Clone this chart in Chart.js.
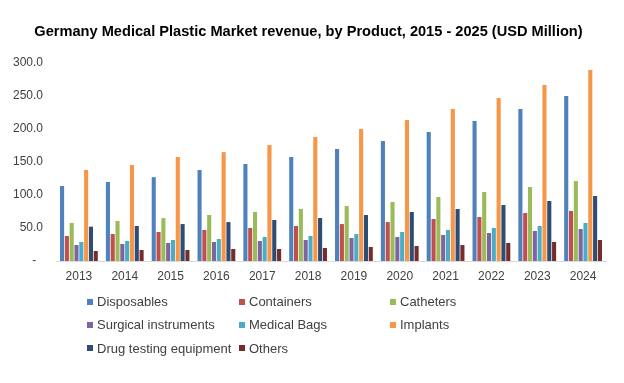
<!DOCTYPE html>
<html>
<head>
<meta charset="utf-8">
<script src="https://cdn.jsdelivr.net/npm/chart.js@4/dist/chart.umd.min.js"></script>
<style>
  html, body { margin: 0; padding: 0; background: #fff; }
  #wrap { position: relative; width: 624px; height: 383px; }
  #legend { position: absolute; left: 87px; top: 290px; width: 520px;
    display: grid; grid-template-columns: 152px 151px 140px; grid-auto-rows: 23.3px;
    font-family: 'Liberation Sans', Arial, sans-serif; font-size: 13px; color: #404040; }
  .item { display: flex; align-items: center; white-space: nowrap; }
  .sw { width: 6px; height: 6px; margin-right: 4px; flex: none; }
</style>
</head>
<body>
<div id="wrap">
  <canvas id="c" width="624" height="383"></canvas>
  <div id="legend"></div>
</div>
<script>
const categories = ['2013','2014','2015','2016','2017','2018','2019','2020','2021','2022','2023','2024'];
const seriesNames = ['Disposables','Containers','Catheters','Surgical instruments','Medical Bags','Implants','Drug testing equipment','Others'];
const disposables = [113.6,119.7,127,137.9,147,157.6,169.7,181.8,195.5,212,230.3,250];
const containers = [37.9,40.9,43.9,47,50,53,56,59,63.6,66.7,72.7,75.8];
const catheters = [57.6,60.6,65,69.7,74.2,78.8,83.3,89.4,97,104.5,112,121.2];
const surgical = [24.2,25.8,27.3,28.8,30.3,31.8,34.8,36.4,39.4,42.4,45.5,48.5];
const medicalBags = [28.8,30.3,31.8,33.3,36.4,37.9,40.9,43.9,47,50,53,57.6];
const implants = [137.9,145.5,157.6,165,175.8,187.9,200,213.6,230.3,247,266.7,289.4];
const drugTesting = [52,53,56,59,62.1,65.2,69.7,74.2,78.8,84.8,90.9,98.5];
const others = [15.2,16.7,16.7,18.2,18.2,19.7,21.2,22.7,24.2,27.3,28.8,31.8];
const yTicks = [0,50,100,150,200,250,300];

const colors = ['#4F81BD','#C0504D','#9BBB59','#8064A2','#4BACC6','#F79646','#2C4D75','#772C2A'];
const values = [disposables,containers,catheters,surgical,medicalBags,implants,drugTesting,others];
const FONT = "'Liberation Sans', Arial, sans-serif";

const chart = new Chart(document.getElementById('c'), {
  type: 'bar',
  data: {
    labels: categories,
    datasets: seriesNames.map((n,i) => ({
      label: n, data: values[i], backgroundColor: colors[i],
      categoryPercentage: 0.84, barPercentage: 0.85
    }))
  },
  options: {
    responsive: false, animation: false,
    layout: { padding: { left: 11, right: 18, top: 0, bottom: 100 } },
    plugins: {
      legend: { display: false },
      tooltip: { enabled: false },
      title: { display: true, text: 'Germany Medical Plastic Market revenue, by Product, 2015 - 2025 (USD Million)',
        color: '#000', font: { family: FONT, size: 14.6, weight: 'bold', lineHeight: 1.2 },
        padding: { top: 23, bottom: 22.5 } }
    },
    scales: {
      x: {
        grid: { display: false, drawTicks: false },
        border: { display: true, color: '#D9D9D9', width: 1 },
        ticks: { color: '#404040', font: { family: FONT, size: 12 }, padding: 8, maxRotation: 0 },
        afterFit: s => { s.height = 22; }
      },
      y: {
        min: 0, max: 300,
        afterBuildTicks: s => { s.ticks = yTicks.map(v => ({ value: v })); },
        grid: { display: false, drawTicks: false },
        border: { display: false },
        ticks: { color: '#404040', font: { family: FONT, size: 12 }, padding: 13,
          callback: v => v === 0 ? '-  ' : v.toFixed(1) },
        afterFit: s => { s.width = 45; }
      }
    }
  }
});

const lg = document.getElementById('legend');
chart.data.datasets.forEach(ds => {
  const it = document.createElement('div'); it.className = 'item';
  const sw = document.createElement('span'); sw.className = 'sw'; sw.style.background = ds.backgroundColor;
  const tx = document.createElement('span'); tx.textContent = ds.label;
  it.appendChild(sw); it.appendChild(tx); lg.appendChild(it);
});
</script>
</body>
</html>
